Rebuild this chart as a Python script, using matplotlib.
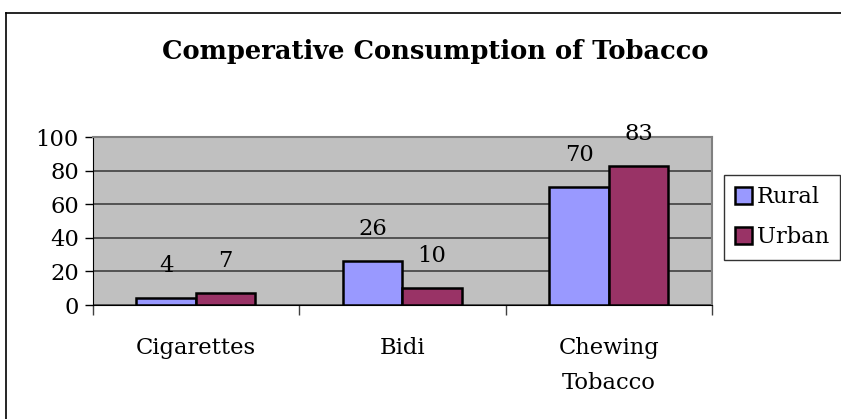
import numpy as np
import matplotlib
matplotlib.use('Agg')
import matplotlib.pyplot as plt
from matplotlib.lines import Line2D

categories = ['Cigarettes', 'Bidi', 'Chewing\nTobacco']
rural = [4, 26, 70]
urban = [7, 10, 83]
yticks = [0, 20, 40, 60, 80, 100]

plt.rcParams['font.family'] = 'DejaVu Serif'

fig = plt.figure(figsize=(8.41, 4.19), dpi=100)
W, H = 841, 419

# chart area border (left and top visible)
fig.add_artist(Line2D([6 / W, 6 / W], [0, 1 - 13 / H], color='black', lw=1.2))
fig.add_artist(Line2D([6 / W, 1], [1 - 13 / H, 1 - 13 / H], color='black', lw=1.2))

ax = fig.add_axes([92.7 / W, 1 - 305 / H, (712 - 92.7) / W, (305 - 137) / H])
ax.set_facecolor('#c0c0c0')

x = np.arange(len(categories))
bw = 0.288
b1 = ax.bar(x - bw / 2, rural, bw, color='#9999ff', edgecolor='black', linewidth=1.8, label='Rural', zorder=3)
b2 = ax.bar(x + bw / 2, urban, bw, color='#993366', edgecolor='black', linewidth=1.8, label='Urban', zorder=3)

fs = 16.3
for bars, vals in ((b1, rural), (b2, urban)):
    for rect, v in zip(bars, vals):
        ax.annotate(str(v), (rect.get_x() + rect.get_width() / 2, v),
                    xytext=(0, 23), textcoords='offset points',
                    ha='center', va='center', fontsize=fs, annotation_clip=False)

ax.set_xlim(-0.5, 2.5)
ax.set_ylim(0, 100)
ax.set_yticks(yticks)
ax.yaxis.grid(True, color='#404040', linewidth=1.2, zorder=1)
ax.set_axisbelow(True)

ax.set_xticks(x)
ax.set_xticklabels(categories, fontsize=fs, linespacing=1.75)
ax.set_xticks([-0.5, 0.5, 1.5, 2.5], minor=True)
ax.tick_params(axis='x', which='major', length=0, pad=23)
ax.tick_params(axis='x', which='minor', length=7, color='#404040', width=1)
ax.tick_params(axis='y', length=6, width=1, color='black', labelsize=fs, pad=4)

for s in ('top', 'right'):
    ax.spines[s].set_color('#808080')
    ax.spines[s].set_linewidth(1.5)
ax.spines['left'].set_color('black')
ax.spines['bottom'].set_color('black')

fig.text(435 / W, 1 - 52 / H, 'Comperative Consumption of Tobacco',
         ha='center', va='center', fontsize=18.5, fontweight='bold')

leg = fig.legend(handles=[b1, b2], loc='upper left', bbox_to_anchor=(724 / W, 1 - 175 / H),
                 borderaxespad=0, frameon=True, fancybox=False, fontsize=fs,
                 handlelength=0.75, handleheight=0.75, handletextpad=0.2,
                 borderpad=0.5, labelspacing=0.8)
leg.get_frame().set_edgecolor('black')
leg.get_frame().set_linewidth(1)

plt.savefig('out.png', dpi=100)
